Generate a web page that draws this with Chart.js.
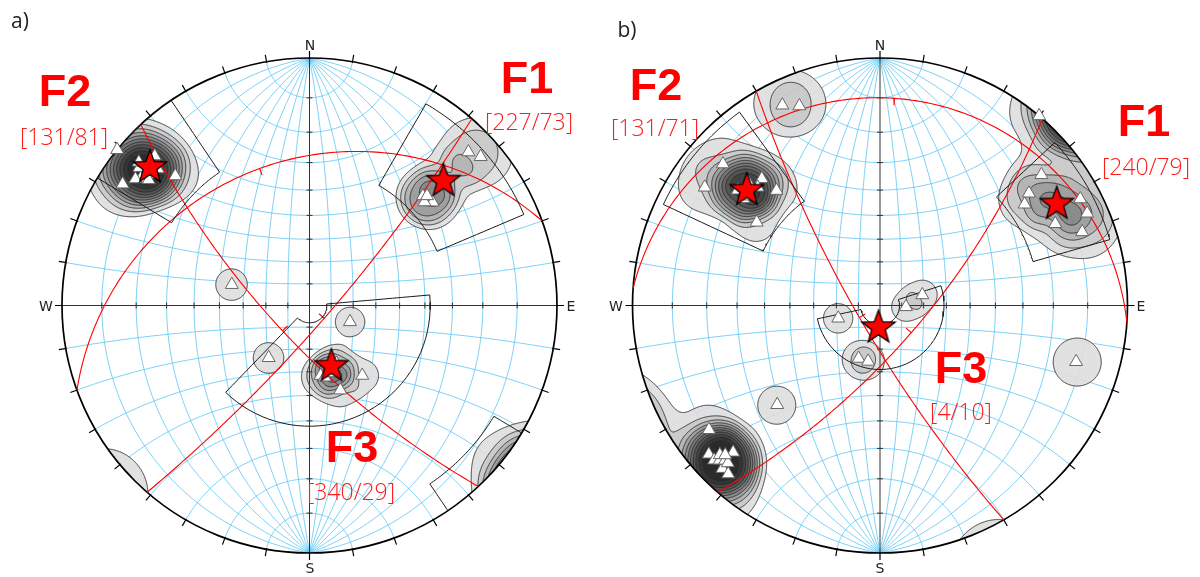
<!DOCTYPE html>
<html>
<head>
<meta charset="utf-8">
<script src="https://cdn.jsdelivr.net/npm/chart.js@4.4.0/dist/chart.umd.min.js"></script>
<style>
  body { margin: 0; background: #fff; width: 1200px; height: 577px; position: relative; overflow: hidden; }
  canvas { position: absolute; top: 0; }
  .lbl { position: absolute; transform: translate(-50%, -50%); white-space: nowrap; line-height: 1; }
  .fam { color: #ff0000; font: bold 45px 'Liberation Sans', Arial, sans-serif; }
  .val { color: #ff1a1a; font: 300 23px 'Open Sans', sans-serif; }
  .dir { color: #222; font: 14px 'DejaVu Sans', sans-serif; }
  .pan { color: #222; font: 21px 'Open Sans', sans-serif; }
</style>
</head>
<body>
<canvas id="netA" width="600" height="577" style="left:0"></canvas>
<canvas id="netB" width="600" height="577" style="left:600px"></canvas>
<script>
// --- data (lower hemisphere, equal-angle) ---
const famNames = ['F1', 'F2', 'F3'];

// a) fold planes: dip direction / dip
const dipDirA = [227, 131, 340];
const dipA = [73, 81, 29];
// b) fold planes
const dipDirB = [240, 131, 4];
const dipB = [79, 71, 10];

// a) poles: trend / plunge
const poleTrendA = [309, 303, 310, 314, 314, 309, 307, 311, 310, 312, 306, 308,
                    46, 49, 46, 50, 48, 47, 47,
                    285, 112, 218,
                    171, 143, 160, 168, 158, 162, 155];
const polePlungeA = [0, 6, 11, 16, 8, 7, 9, 9, 6, 11, 8, 11,
                     6.5, 5, 25, 24, 26, 24, 16,
                     54, 70, 60,
                     58, 51, 50, 57, 60, 58, 61];

// b) poles: trend / plunge
const poleTrendB = [312, 304, 317, 318, 304, 309, 311, 313, 308, 310, 314, 311,
                    334, 338,
                    40, 51, 53, 55, 62, 66, 65, 70, 60,
                    253, 93, 76, 202, 192, 106, 226,
                    234, 229, 227, 225, 224, 222, 226, 225, 227, 224, 226];
const polePlungeB = [9, 9, 20, 26, 28, 17, 19, 18, 20, 21, 21, 18,
                     6, 8,
                     0, 10, 16, 19, 5, 5, 14, 8, 11,
                     70, 78, 70, 64, 64, 11, 30,
                     9, 5, 5, 10, 5, 5, 6, 7, 7, 7, 8];

// selection windows per family: trend range / plunge range
const winTrendA = [[30, 67], [301, 326], [85, 224]];
const winPlungeA = [[3.5, 31.5], [-8, 24], [38, 82]];
const winTrendB = [[47, 74], [295, 324], [72, 258]];
const winPlungeB = [[2, 24.5], [2, 35], [61, 81]];

// label placement (page pixels): family name x,y then value x,y
const labelPosA = [[527, 78, 529, 121], [65, 91, 64, 136], [352, 447, 351, 491]];
const labelPosB = [[1144, 121, 1146, 166], [656, 85, 655, 127], [961, 368, 961, 411]];

const D2R = Math.PI / 180;
const SIGMA = 9 * D2R;
const LEVEL0 = 0.75, LEVEL_STEP = 0.85;
const GREYS = [222, 198, 174, 150, 128, 106, 86, 66, 48, 32, 20];

function lineVec(trend, plunge) {
  const t = trend * D2R, p = plunge * D2R;
  return [Math.cos(p) * Math.sin(t), Math.cos(p) * Math.cos(t), -Math.sin(p)];
}

// stereographic, lower hemisphere, unit primitive
function project(v) {
  let [x, y, z] = v;
  if (z > 1e-9) { x = -x; y = -y; z = -z; }
  return { x: x / (1 - z), y: y / (1 - z) };
}

function greatCircle(dipDir, dip, n) {
  const h = lineVec(dipDir - 90, 0), d = lineVec(dipDir, dip);
  const pts = [];
  for (let i = 0; i <= n; i++) {
    const a = Math.PI * i / n;
    pts.push(project([0, 1, 2].map(k => Math.cos(a) * h[k] + Math.sin(a) * d[k])));
  }
  return pts;
}

function smallCircleNS(alpha, n) {
  const pts = [], a = alpha * D2R;
  for (let i = 0; i <= n; i++) {
    const f = Math.PI + Math.PI * i / n;
    pts.push(project([Math.sin(a) * Math.cos(f), Math.cos(a), Math.min(0, Math.sin(a) * Math.sin(f))]));
  }
  return pts;
}

function windowPaths(tr, pl) {
  const [t1, t2] = tr;
  const span = ((t2 - t1) + 360) % 360;
  const p1 = Math.max(pl[0], 0), p2 = pl[1];
  const N = 40, M = 12, main = [];
  for (let i = 0; i <= N; i++) main.push(project(lineVec(t1 + span * i / N, p1)));
  for (let i = 0; i <= M; i++) main.push(project(lineVec(t2, p1 + (p2 - p1) * i / M)));
  for (let i = N; i >= 0; i--) main.push(project(lineVec(t1 + span * i / N, p2)));
  for (let i = M; i >= 0; i--) main.push(project(lineVec(t1, p1 + (p2 - p1) * i / M)));
  const out = [main];
  if (pl[0] < 0) {
    // part of the window that wraps through the primitive
    const q = -pl[0], frag = [];
    for (let i = 0; i <= M; i++) frag.push(project(lineVec(t1 + 180, q * i / M)));
    for (let i = 0; i <= N; i++) frag.push(project(lineVec(t1 + 180 + span * i / N, q)));
    for (let i = M; i >= 0; i--) frag.push(project(lineVec(t2 + 180, q * i / M)));
    out.push(frag);
  }
  return out;
}

function levelOf(v) {
  return v < LEVEL0 ? 0 : Math.min(GREYS.length, Math.floor((v - LEVEL0) / LEVEL_STEP) + 1);
}

// pole density (smoothed Kamb-like count), one grey band per level
function densityField(trends, plunges, cx, cy, R) {
  const vs = trends.map((t, i) => lineVec(t, plunges[i]));
  const x0 = Math.floor(cx - R) - 2, y0 = Math.floor(cy - R) - 2;
  const n = Math.ceil(2 * R) + 5;
  const val = new Float32Array(n * n);
  const s2 = SIGMA * SIGMA;
  let maxV = 0;
  for (let j = 0; j < n; j++) {
    for (let i = 0; i < n; i++) {
      const X = (x0 + i + 0.5 - cx) / R, Y = (cy - y0 - j - 0.5) / R;
      const r2 = X * X + Y * Y, den = 1 + r2;
      const vx = 2 * X / den, vy = 2 * Y / den, vz = -(1 - r2) / den;
      let d = 0;
      for (const p of vs) {
        const c = Math.abs(vx * p[0] + vy * p[1] + vz * p[2]);
        const u = 2 * (1 - c) / s2;
        if (u < 5) d += Math.exp(-u * u);
      }
      val[j * n + i] = d;
      if (d > maxV) maxV = d;
    }
  }
  const cnv = document.createElement('canvas');
  cnv.width = cnv.height = n;
  const g = cnv.getContext('2d');
  const im = g.createImageData(n, n);
  for (let k = 0; k < n * n; k++) {
    const lev = levelOf(val[k]);
    if (lev > 0) {
      const c = GREYS[lev - 1];
      im.data[k * 4] = c; im.data[k * 4 + 1] = c; im.data[k * 4 + 2] = c; im.data[k * 4 + 3] = 255;
    }
  }
  g.putImageData(im, 0, 0);
  return { img: cnv, x0, y0, n, val, maxLev: levelOf(maxV) };
}

// marching squares, edges 0 top 1 right 2 bottom 3 left
const SEGS = [[], [[3, 2]], [[2, 1]], [[3, 1]], [[0, 1]], [[0, 1], [3, 2]], [[0, 2]], [[0, 3]],
              [[0, 3]], [[0, 2]], [[0, 3], [2, 1]], [[0, 1]], [[3, 1]], [[1, 2]], [[3, 2]], []];

function drawContour(ctx, f, L) {
  const { n, val, x0, y0 } = f;
  ctx.beginPath();
  for (let j = 0; j < n - 1; j++) {
    for (let i = 0; i < n - 1; i++) {
      const a = val[j * n + i], b = val[j * n + i + 1], c = val[(j + 1) * n + i + 1], d = val[(j + 1) * n + i];
      const code = (a > L) * 8 + (b > L) * 4 + (c > L) * 2 + (d > L);
      if (code === 0 || code === 15) continue;
      const ox = x0 + i + 0.5, oy = y0 + j + 0.5;
      const e = [
        [ox + (L - a) / (b - a), oy],
        [ox + 1, oy + (L - b) / (c - b)],
        [ox + (L - d) / (c - d), oy + 1],
        [ox, oy + (L - a) / (d - a)]
      ];
      for (const s of SEGS[code]) {
        ctx.moveTo(e[s[0]][0], e[s[0]][1]);
        ctx.lineTo(e[s[1]][0], e[s[1]][1]);
      }
    }
  }
  ctx.stroke();
}

function netPlugin(trends, plunges) {
  let field = null;
  return {
    id: 'stereonet',
    beforeDatasetsDraw(chart) {
      const { ctx, scales: { x, y } } = chart;
      const cx = x.getPixelForValue(0), cy = y.getPixelForValue(0);
      const R = x.getPixelForValue(1) - cx;
      const stroke = pts => {
        ctx.beginPath();
        pts.forEach((p, i) => {
          const X = x.getPixelForValue(p.x), Y = y.getPixelForValue(p.y);
          if (i) ctx.lineTo(X, Y); else ctx.moveTo(X, Y);
        });
        ctx.stroke();
      };
      if (!field) field = densityField(trends, plunges, cx, cy, R);

      ctx.save();
      ctx.beginPath();
      ctx.arc(cx, cy, R, 0, 2 * Math.PI);
      ctx.clip();
      // net: meridians through N and S, small circles about the N-S axis
      ctx.strokeStyle = 'rgb(92,198,245)';
      ctx.lineWidth = 0.8;
      for (let lam = 10; lam < 90; lam += 10) {
        stroke(greatCircle(90, 90 - lam, 120));
        stroke(greatCircle(270, 90 - lam, 120));
      }
      for (let a = 10; a < 180; a += 10) if (a !== 90) stroke(smallCircleNS(a, 120));
      // density bands
      ctx.globalAlpha = 0.9;
      ctx.drawImage(field.img, field.x0, field.y0);
      ctx.globalAlpha = 1;
      ctx.strokeStyle = '#2a2a2a';
      ctx.lineWidth = 0.9;
      for (let m = 1; m <= field.maxLev; m++) drawContour(ctx, field, LEVEL0 + (m - 1) * LEVEL_STEP);
      ctx.restore();

      // N-S and E-W diameters with 10 degree ticks
      ctx.strokeStyle = '#333';
      ctx.lineWidth = 1;
      ctx.beginPath();
      ctx.moveTo(x.getPixelForValue(-1), cy); ctx.lineTo(x.getPixelForValue(1), cy);
      ctx.moveTo(cx, y.getPixelForValue(1)); ctx.lineTo(cx, y.getPixelForValue(-1));
      for (let th = 10; th < 90; th += 10) {
        const d = Math.tan(th * D2R / 2);
        for (const s of [-1, 1]) {
          const px = x.getPixelForValue(s * d), py = y.getPixelForValue(s * d);
          ctx.moveTo(px, cy - 3); ctx.lineTo(px, cy + 3);
          ctx.moveTo(cx - 3, py); ctx.lineTo(cx + 3, py);
        }
      }
      ctx.stroke();

      // primitive and azimuth ticks
      ctx.strokeStyle = '#000';
      ctx.lineWidth = 1.7;
      ctx.beginPath();
      ctx.arc(cx, cy, R, 0, 2 * Math.PI);
      ctx.stroke();
      ctx.lineWidth = 1.2;
      ctx.beginPath();
      for (let az = 0; az < 360; az += 10) {
        const s = Math.sin(az * D2R), c = Math.cos(az * D2R);
        ctx.moveTo(cx + s * (R - 1), cy - c * (R - 1));
        ctx.lineTo(cx + s * (R + 7), cy - c * (R + 7));
      }
      ctx.stroke();
    }
  };
}

function makeStar() {
  const c = document.createElement('canvas');
  c.width = c.height = 38;
  const g = c.getContext('2d');
  g.beginPath();
  for (let i = 0; i < 10; i++) {
    const r = i % 2 ? 7.2 : 17.5, a = -Math.PI / 2 + i * Math.PI / 5;
    g.lineTo(19 + r * Math.cos(a), 19.5 + r * Math.sin(a));
  }
  g.closePath();
  g.fillStyle = '#ff0000';
  g.fill();
  g.strokeStyle = '#000';
  g.lineWidth = 1.3;
  g.stroke();
  return c;
}
const starImg = makeStar();

function buildNet(canvasId, pad, dipDirs, dips, poleT, poleP, winT, winP) {
  const datasets = [];
  datasets.push({
    data: dipDirs.map((dd, i) => project(lineVec(dd + 180, 90 - dips[i]))),
    pointStyle: starImg, pointRadius: 12, order: 0
  });
  datasets.push({
    data: poleT.map((t, i) => project(lineVec(t, poleP[i]))),
    pointStyle: 'triangle', pointRadius: 7.5, backgroundColor: '#fff',
    borderColor: '#666', borderWidth: 1, order: 1
  });
  winT.forEach((tr, i) => {
    windowPaths(tr, winP[i]).forEach(path => datasets.push({
      data: path, showLine: true, pointRadius: 0, borderColor: '#1a1a1a', borderWidth: 1, order: 2
    }));
  });
  dipDirs.forEach((dd, i) => {
    datasets.push({
      data: greatCircle(dd, dips[i], 150), showLine: true, pointRadius: 0,
      borderColor: '#ff0000', borderWidth: 1.1, order: 3
    });
    const p = project(lineVec(dd, dips[i]));
    const len = Math.hypot(p.x, p.y) || 1;
    datasets.push({
      data: [p, { x: p.x - 0.028 * p.x / len, y: p.y - 0.028 * p.y / len }],
      showLine: true, pointRadius: 0, borderColor: '#ff0000', borderWidth: 1.1, order: 3
    });
  });

  new Chart(document.getElementById(canvasId), {
    type: 'scatter',
    data: { datasets },
    options: {
      responsive: false,
      animation: false,
      events: [],
      layout: { padding: pad },
      scales: {
        x: { type: 'linear', min: -1, max: 1, display: false },
        y: { type: 'linear', min: -1, max: 1, display: false }
      },
      plugins: { legend: { display: false }, tooltip: { enabled: false } }
    },
    plugins: [netPlugin(poleT, poleP)]
  });
}

function addLabel(cls, text, x, y) {
  const el = document.createElement('div');
  el.className = 'lbl ' + cls;
  el.textContent = text;
  el.style.left = x + 'px';
  el.style.top = y + 'px';
  document.body.appendChild(el);
}

function addLabels(pos, dipDirs, dips, panel, px, cx) {
  addLabel('pan', panel, px[0], px[1]);
  addLabel('dir', 'N', cx, 45);
  addLabel('dir', 'S', cx, 568);
  addLabel('dir', 'W', cx - 264, 306);
  addLabel('dir', 'E', cx + 261, 306);
  famNames.forEach((f, i) => {
    addLabel('fam', f, pos[i][0], pos[i][1]);
    addLabel('val', '[' + dipDirs[i] + '/' + dips[i] + ']', pos[i][2], pos[i][3]);
  });
}

buildNet('netA', { left: 62, right: 43, top: 58, bottom: 24 },
         dipDirA, dipA, poleTrendA, polePlungeA, winTrendA, winPlungeA);
buildNet('netB', { left: 32.5, right: 72.5, top: 58, bottom: 24 },
         dipDirB, dipB, poleTrendB, polePlungeB, winTrendB, winPlungeB);
addLabels(labelPosA, dipDirA, dipA, 'a)', [20, 20], 310);
addLabels(labelPosB, dipDirB, dipB, 'b)', [627, 29], 880);
</script>
</body>
</html>
